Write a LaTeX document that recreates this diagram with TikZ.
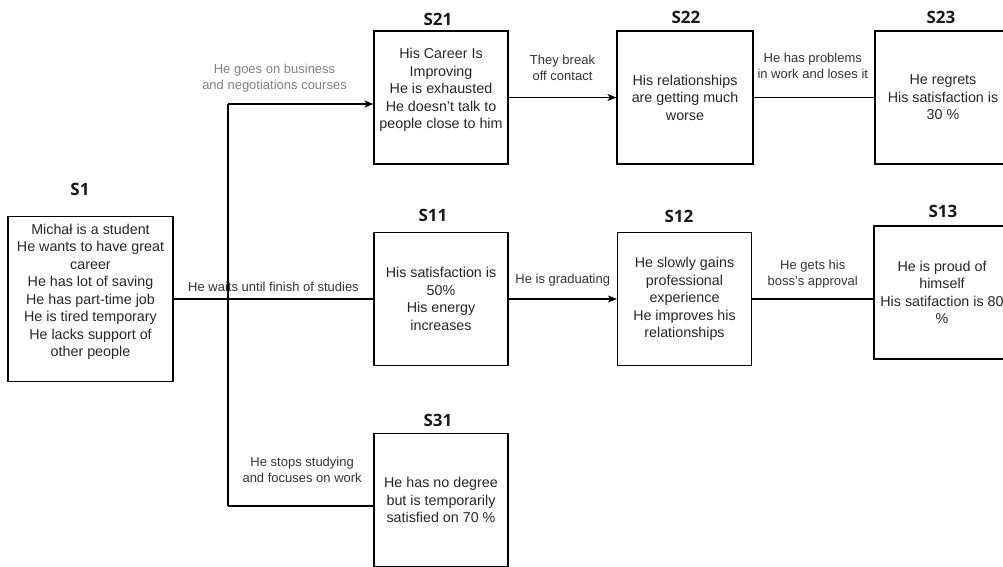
\documentclass[tikz,border=0pt]{standalone}
\usepackage{fontspec}
\setmainfont{Liberation Sans}
\newfontfamily\titlefont{Open Sans}
\usetikzlibrary{arrows.meta}

\begin{document}
\begin{tikzpicture}[x=1pt,y=-1pt,
  box/.style={draw,line width=1.2pt,minimum width=134pt,minimum height=133pt,
    align=center,inner sep=2pt,text=black!85,font=\fontsize{14.3}{17.5}\selectfont},
  title/.style={font=\titlefont\bfseries\fontsize{17}{20}\selectfont,text=black!90},
  lbl/.style={align=center,text=black!80,font=\fontsize{13}{16}\selectfont},
  link/.style={line width=1.2pt},
  arr/.style={link,-{Stealth[length=9pt,width=7pt,inset=2.5pt]}}]

\useasboundingbox (0,0) rectangle (1003,566);

% states
\node[box,minimum width=165pt,minimum height=165pt] (s1) at (90.5,299) {Michał is a student\\He wants to have great\\career\\He has lot of saving\\He has part-time job\\He is tired temporary\\He lacks support of\\other people\\\mbox{}};

\node[box] (s11) at (441,299) {His satisfaction is\\50\%\\His energy\\increases};
\node[box] (s12) at (684.5,299) {He slowly gains\\professional\\experience\\He improves his\\relationships};
\node[box,minimum width=136pt] (s13) at (942,292.5) {He is proud of\\himself\\His satifaction is 80\\\%};

\node[box] (s21) at (441,97.5) {His Career Is\\Improving\\He is exhausted\\He doesn't talk to\\people close to him\\\mbox{}};
\node[box,minimum width=136pt] (s22) at (685,97.5) {His relationships\\are getting much\\worse};
\node[box,minimum width=136pt] (s23) at (943,97.5) {He regrets\\His satisfaction is\\30 \%};

\node[box] (s31) at (441,500) {He has no degree\\but is temporarily\\satisfied on 70 \%};

% titles
\node[title] (t1) at (80,189) {S1};
\node[title] (t11) at (433,215) {S11};
\node[title] (t12) at (679,216.5) {S12};
\node[title] (t13) at (943,211.5) {S13};
\node[title] (t21) at (438,19) {S21};
\node[title] (t22) at (686,17.5) {S22};
\node[title] (t23) at (941,17.5) {S23};
\node[title] (t31) at (438,420) {S31};

% transitions
\coordinate (forktop) at (228,104);
\coordinate (forkbot) at (228,506);

\draw[link] (s1) -- node[lbl,pos=0.5,yshift=12pt] {He waits until finish of studies} (s11);
\draw[link] (forktop) -- (forkbot);
\draw[arr] (forktop) -- node[lbl,text=black!50,pos=0.32,yshift=26pt] {He goes on business\\and negotiations courses} (forktop -| s21.west);
\draw[link] (forkbot) -- node[lbl,pos=0.51,yshift=36pt] {He stops studying\\and focuses on work} (forkbot -| s31.west);

\draw[arr] (s21) -- node[lbl,yshift=29.5pt] {They break\\off contact} (s22);
\draw[link] (s22) -- node[lbl,pos=0.49,yshift=31.5pt] {He has problems\\in work and loses it} (s23);

\draw[arr] (s11) -- node[lbl,yshift=19pt] {He is graduating} (s12);
\draw[link] (s12) -- node[lbl,yshift=25pt] {He gets his\\boss's approval} (s12 -| s13.west);
\end{tikzpicture}
\end{document}
